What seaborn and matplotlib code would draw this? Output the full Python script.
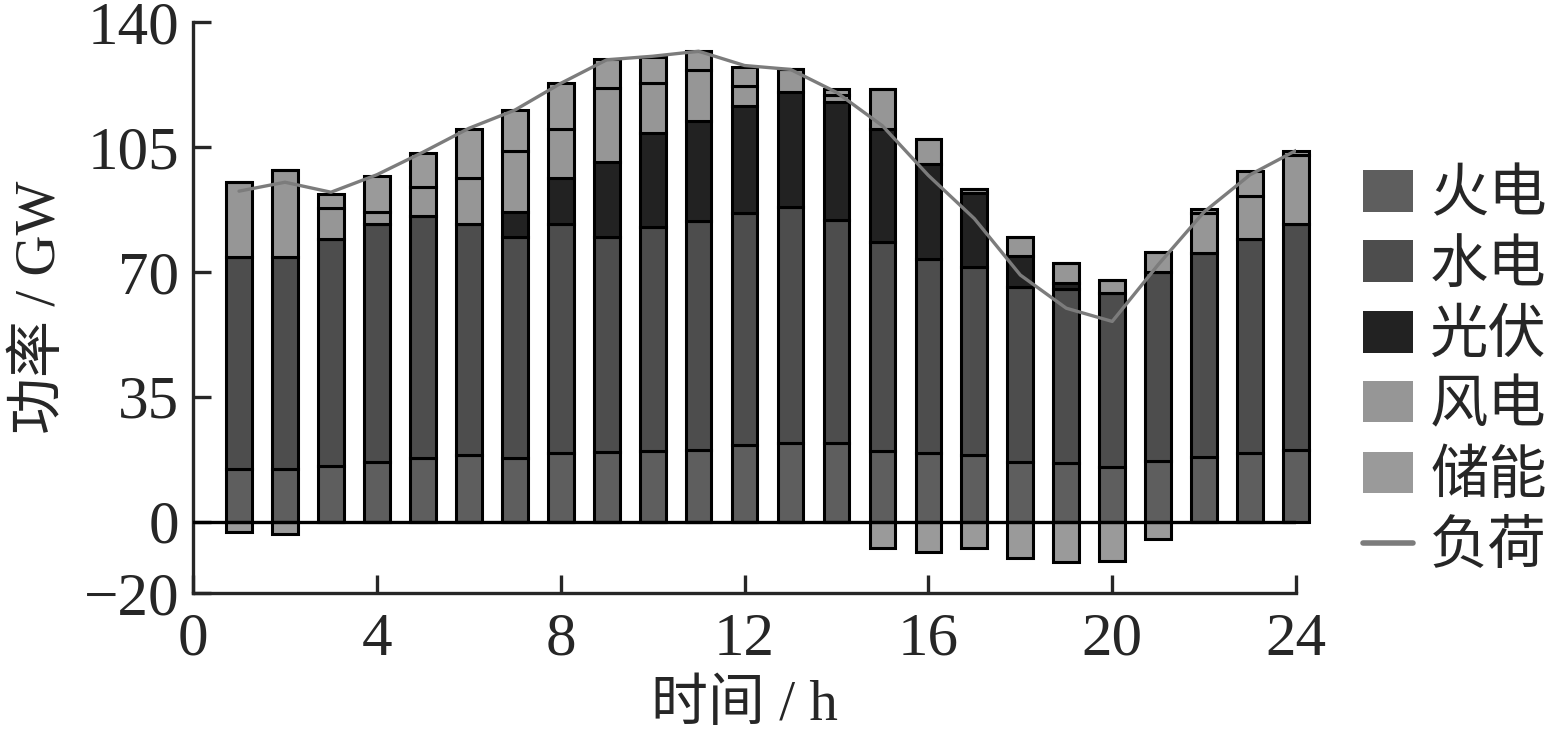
import numpy as np
import pandas as pd
import matplotlib
matplotlib.use("Agg")
import matplotlib.pyplot as plt
import seaborn as sns
from matplotlib.patches import Patch
from matplotlib.lines import Line2D

# hourly dispatch (GW)
hours = list(range(1, 25))
thermal = [14.7, 14.7, 15.6, 16.8, 17.9, 18.6, 17.9, 19.2, 19.5, 19.7, 20.2, 21.6,
           22.0, 22.0, 19.7, 19.2, 18.6, 16.8, 16.3, 15.4, 17.0, 18.1, 19.2, 20.2]
hydro = [59.5, 59.5, 63.5, 66.5, 67.8, 64.8, 61.9, 64.1, 60.3, 62.8, 64.1, 65.0,
         66.2, 62.6, 58.6, 54.5, 52.7, 49.0, 49.0, 48.8, 52.9, 57.3, 59.9, 63.2]
solar = [0, 0, 0, 0, 0, 0, 7.0, 13.0, 21.0, 26.4, 28.0, 29.8,
         32.1, 33.1, 31.7, 26.4, 20.9, 8.7, 1.5, 0, 0, 0, 0, 0]
wind = [20.9, 24.3, 8.7, 3.5, 8.0, 12.9, 17.0, 13.7, 20.6, 14.1, 14.2, 5.7,
        6.6, 1.8, 11.2, 7.1, 1.0, 5.3, 5.6, 3.6, 5.7, 11.2, 12.2, 19.4]
storage = [-2.9, -3.4, 4.1, 10.1, 9.6, 13.7, 11.4, 12.8, 8.3, 7.2, 5.5, 5.4,
           0, 1.6, -7.5, -8.5, -7.5, -10.1, -11.2, -11.0, -4.8, 1.1, 7.0, 1.0]
load = [92.6, 95.1, 92.3, 97.2, 103.5, 110.2, 115.3, 122.8, 129.4, 130.4, 131.8, 127.8,
        126.7, 120.3, 110.9, 97.0, 84.9, 69.1, 59.8, 56.1, 72.0, 86.8, 97.2, 104.0]

names = ["火电", "水电", "光伏", "风电", "储能"]
colors = ["#5e5e5e", "#4d4d4d", "#222222", "#969696", "#9a9a9a"]

df = pd.DataFrame({"hour": hours, "火电": thermal, "水电": hydro, "光伏": solar,
                   "风电": wind, "储能": storage, "负荷": load})

sns.set_style("ticks")
plt.rcParams["font.family"] = ["Liberation Serif", "Noto Sans CJK SC", "DejaVu Sans"]
plt.rcParams["axes.unicode_minus"] = True

fig = plt.figure(figsize=(15.52, 7.5), dpi=100)
ax = fig.add_axes([0.1244, 0.2093, 0.7107, 0.7614])

width = 0.56
bottom = np.zeros(len(df))
for name, col in zip(names, colors):
    vals = df[name].to_numpy(dtype=float)
    pos = np.where(vals > 0, vals, 0)
    neg = np.where(vals < 0, vals, 0)
    ax.bar(df["hour"], pos, width=width, bottom=bottom, color=col,
           edgecolor="black", linewidth=2.2, clip_on=False, zorder=2)
    if (neg < 0).any():
        ax.bar(df["hour"], neg, width=width, bottom=0, color=col,
               edgecolor="black", linewidth=2.2, clip_on=False, zorder=2)
    bottom += pos

ax.axhline(0, color="black", linewidth=2.4, zorder=3)
sns.lineplot(data=df, x="hour", y="负荷", ax=ax, color="#7c7c7c",
             linewidth=2.4, zorder=5, legend=False)

ax.set_xlim(0, 24)
ax.set_ylim(-20, 140)
ax.set_xticks(range(0, 25, 4))
ax.set_yticks([-20, 0, 35, 70, 105, 140])
sns.despine(ax=ax)
for s in ["left", "bottom"]:
    ax.spines[s].set_linewidth(2.4)
ax.tick_params(direction="in", length=13, width=2.4, labelsize=44)
ax.tick_params(axis="x", pad=14)
ax.tick_params(axis="y", pad=10)

ax.set_xlabel("时间 / h", fontsize=41, labelpad=8)
ax.set_ylabel("功率 / GW", fontsize=41, labelpad=12)

handles = [Patch(facecolor=c, edgecolor="none") for c in colors]
handles.append(Line2D([0], [0], color="#7c7c7c", linewidth=4))
leg = fig.legend(handles, names + ["负荷"], loc="upper left",
                 bbox_to_anchor=(1363 / 1552, 1 - 170 / 750), frameon=False,
                 fontsize=42, handlelength=0.86, handleheight=0.72,
                 handletextpad=0.29, labelspacing=0.28, borderpad=0, borderaxespad=0)

fig.savefig("out.png", dpi=100)
